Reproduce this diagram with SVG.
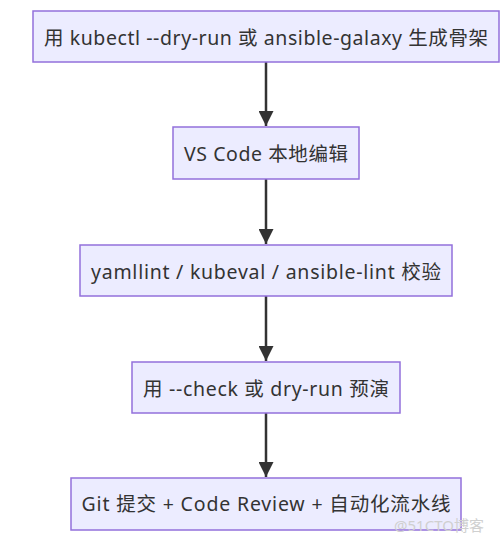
<svg xmlns="http://www.w3.org/2000/svg" width="504" height="538" viewBox="0 0 504 538">
<style>
.node rect{fill:#ECECFF;stroke:#9370DB;stroke-width:1.5}
.node text{font-family:"Noto Sans","Noto Sans CJK SC",sans-serif;font-size:19.5px;fill:#333;text-anchor:middle;dominant-baseline:central}
.edge{stroke:#333;stroke-width:2.5;fill:none}
.wm{font-family:"Noto Sans","Noto Sans CJK SC",sans-serif;font-size:15px;fill:#d0d0d0}
</style>
<defs>
<marker id="arr" viewBox="0 0 10 10" refX="10" refY="5" markerWidth="6" markerHeight="6" orient="auto" markerUnits="strokeWidth">
<path d="M0,0 L10,5 L0,10 z" fill="#333"/>
</marker>
</defs>
<rect width="504" height="538" fill="#fff"/>
<g id="edges">
<line class="edge" x1="266" y1="62" x2="266" y2="126" marker-end="url(#arr)"/>
<line class="edge" x1="266" y1="179" x2="266" y2="244" marker-end="url(#arr)"/>
<line class="edge" x1="266" y1="296" x2="266" y2="361" marker-end="url(#arr)"/>
<line class="edge" x1="266" y1="413" x2="266" y2="477" marker-end="url(#arr)"/>
</g>
<g id="n1" class="node"><rect x="33" y="11" width="466" height="51"/><text x="266" y="37" textLength="444" lengthAdjust="spacing">用 kubectl --dry-run 或 ansible-galaxy 生成骨架</text></g>
<g id="n2" class="node"><rect x="173" y="127" width="186" height="52"/><text x="266" y="153" textLength="164" lengthAdjust="spacing">VS Code 本地编辑</text></g>
<g id="n3" class="node"><rect x="80" y="245" width="372" height="51"/><text x="266" y="271" textLength="350" lengthAdjust="spacing">yamllint / kubeval / ansible-lint 校验</text></g>
<g id="n4" class="node"><rect x="132" y="362" width="268" height="51"/><text x="266" y="388" textLength="246" lengthAdjust="spacing">用 --check 或 dry-run 预演</text></g>
<g id="n5" class="node"><rect x="71" y="478" width="390" height="52"/><text x="266" y="503" textLength="369" lengthAdjust="spacing">Git 提交 + Code Review + 自动化流水线</text></g>
<text class="wm" x="394" y="531">@51CTO博客</text>
</svg>
